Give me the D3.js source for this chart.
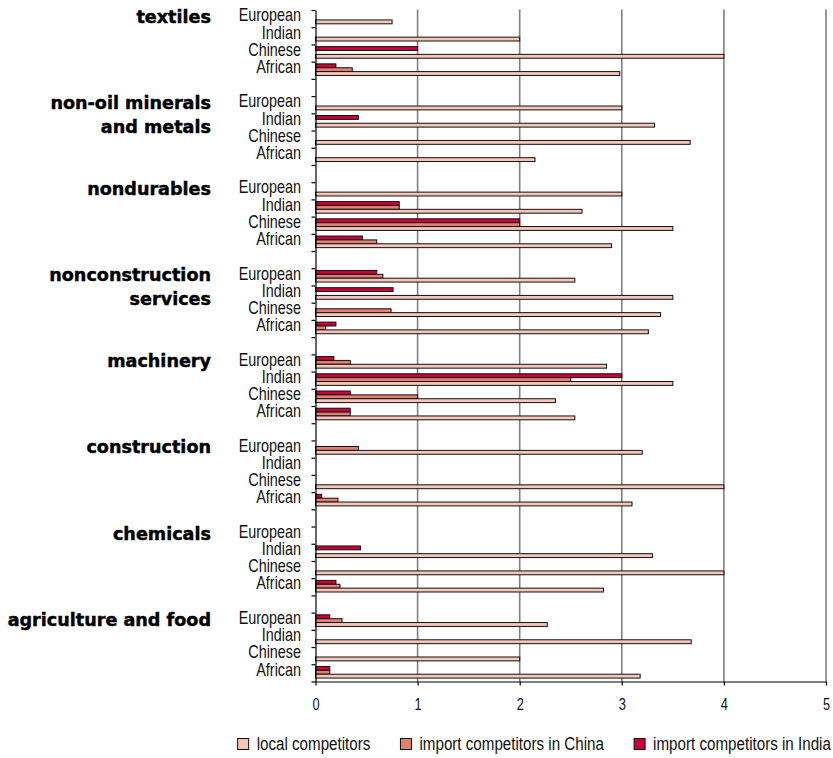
<!DOCTYPE html>
<html><head><meta charset="utf-8">
<script src="https://cdn.jsdelivr.net/npm/d3@7"></script>
<style>
html,body{margin:0;padding:0;background:#fff;}
svg{display:block;}
</style></head><body>
<svg id="chart" width="833" height="758"></svg>
<script>
// ---------- data ----------
const groups = ["textiles","non-oil minerals and metals","nondurables","nonconstruction services","machinery","construction","chemicals","agriculture and food"];
const groupLines = [["textiles"],["non-oil minerals","and metals"],["nondurables"],["nonconstruction","services"],["machinery"],["construction"],["chemicals"],["agriculture and food"]];
const origins = ["European","Indian","Chinese","African"];
const seriesNames = ["local competitors","import competitors in China","import competitors in India"];
// values ordered group by group, origins European, Indian, Chinese, African
const localVals = [
  0.75, 2.00, 4.00, 2.98,
  3.00, 3.32, 3.67, 2.15,
  3.00, 2.61, 3.50, 2.90,
  2.54, 3.50, 3.38, 3.26,
  2.85, 3.50, 2.35, 2.54,
  3.20, 0.00, 4.00, 3.10,
  0.00, 3.30, 4.00, 2.82,
  2.27, 3.68, 2.00, 3.18
];
const chinaVals = [
  0.00, 0.00, 0.00, 0.36,
  0.00, 0.00, 0.00, 0.00,
  0.00, 0.82, 2.00, 0.60,
  0.66, 0.00, 0.74, 0.10,
  0.34, 2.50, 1.00, 0.34,
  0.42, 0.00, 0.00, 0.22,
  0.00, 0.00, 0.00, 0.24,
  0.26, 0.00, 0.00, 0.14
];
const indiaVals = [
  0.00, 0.00, 1.00, 0.20,
  0.00, 0.42, 0.00, 0.00,
  0.00, 0.82, 2.00, 0.46,
  0.60, 0.76, 0.00, 0.20,
  0.18, 3.00, 0.34, 0.34,
  0.00, 0.00, 0.00, 0.06,
  0.00, 0.44, 0.00, 0.20,
  0.14, 0.00, 0.00, 0.14
];
const xTicks = [0,1,2,3,4,5];
const colors = ["#f4c5b8","#e17f75","#cc0036"];

// ---------- layout ----------
const svg = d3.select("#chart");
const sans = '"Liberation Sans",Arial,sans-serif';
const heavy = '"DejaVu Sans",sans-serif';

const rows = [];
groups.forEach((g,gi)=>{
  origins.forEach((o,oi)=>rows.push({key:gi+"|"+o, gi, oi, origin:o, idx:gi*4+oi}));
  if(gi<groups.length-1) rows.push({key:gi+"|gap", gap:true});
});

const x = d3.scaleLinear().domain([0,5]).range([315.5,826]);
const y = d3.scaleBand().domain(rows.map(r=>r.key)).range([10,681.5]).padding(0);
const sub = d3.scaleBand().domain(["india","china","local"]).range([2.2,13.8]).padding(0);

// grid lines
svg.append("g").selectAll("line").data(xTicks.filter(t=>t>0)).join("line")
  .attr("x1",d=>x(d)).attr("x2",d=>x(d)).attr("y1",9.5).attr("y2",681.5)
  .attr("stroke","#808080").attr("stroke-width",1.6);

// bars
const series = [
  {key:"india", vals:indiaVals, color:colors[2]},
  {key:"china", vals:chinaVals, color:colors[1]},
  {key:"local", vals:localVals, color:colors[0]}
];
const dataRows = rows.filter(r=>!r.gap);
series.forEach(s=>{
  svg.append("g").selectAll("rect").data(dataRows.filter(r=>s.vals[r.idx]>0)).join("rect")
    .attr("x",x(0)).attr("y",r=>y(r.key)+sub(s.key))
    .attr("width",r=>x(s.vals[r.idx])-x(0)).attr("height",sub.bandwidth())
    .attr("fill",s.color).attr("stroke","#111").attr("stroke-width",1);
});

// y axis
const yIdx = d3.scaleLinear().domain([0,rows.length]).range([10,681.5]);
const yAxis = svg.append("g").attr("transform",`translate(${x(0)},0)`)
  .call(d3.axisLeft(yIdx).tickValues(d3.range(rows.length+1)).tickSize(4).tickFormat("").tickSizeOuter(0));
yAxis.selectAll("line,path").attr("stroke","#000").attr("stroke-width",1.2);

// x axis
const xAxis = svg.append("g").attr("transform","translate(0,681.5)")
  .call(d3.axisBottom(x).tickValues(xTicks).tickFormat(d3.format("d")).tickSize(4).tickSizeOuter(0));
xAxis.selectAll("line,path").attr("stroke","#000").attr("stroke-width",1.2);
xAxis.selectAll("text").attr("y",0).attr("dy",null)
  .attr("transform","translate(0,28.5) scale(0.8,1)")
  .style("font-family",sans).style("font-size","16px").attr("fill","#111");

// origin labels (condensed)
svg.append("g").selectAll("text").data(dataRows).join("text")
  .attr("transform",r=>`translate(301,${y(r.key)+11.3}) scale(0.79,1)`)
  .attr("text-anchor","end")
  .style("font-family",sans).style("font-size","18.2px").attr("fill","#111")
  .text(r=>r.origin);

// group labels
groupLines.forEach((lines,gi)=>{
  const top = y(gi+"|European");
  svg.append("text").attr("x",211).attr("text-anchor","end")
    .style("font-family",heavy).style("font-weight","bold").style("font-size","17.6px")
    .attr("fill","#000").attr("stroke","#000").attr("stroke-width",0.45)
    .selectAll("tspan").data(lines).join("tspan")
    .attr("x",211).attr("y",(d,i)=>top+13+i*23.5).text(d=>d);
});

// legend (right aligned, condensed text)
const leg = svg.append("g");
const legY = 744;
const sx = 0.82;
const items = seriesNames.map((n,i)=>({name:n, color:colors[i]}));
let cursor = 831;
for(let i=items.length-1;i>=0;i--){
  const t = leg.append("text").style("font-family",sans)
    .style("font-size","18.5px").attr("fill","#111").text(items[i].name);
  const w = t.node().getComputedTextLength()*sx;
  const tx = cursor - w;
  t.attr("transform",`translate(${tx},${legY+6}) scale(${sx},1)`);
  leg.append("rect").attr("x",tx-19).attr("y",legY-5.5).attr("width",11).attr("height",11)
    .attr("fill",items[i].color).attr("stroke","#111").attr("stroke-width",1);
  cursor = tx-19-30;
}
</script>
</body></html>
